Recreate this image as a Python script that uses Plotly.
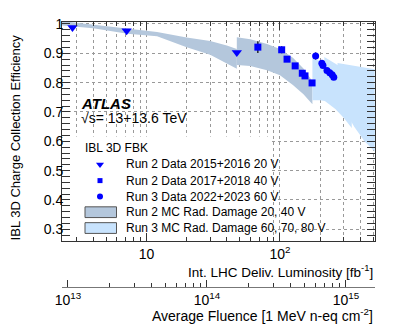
import plotly.graph_objects as go

# ---- data ----
run2_1516_lumi = [2.79, 7.1, 47.5]
run2_1516_cce = [0.988, 0.977, 0.903]

run2_1718_lumi = [68.3, 103, 113, 130, 147, 154, 174]
run2_1718_cce = [0.921, 0.912, 0.880, 0.857, 0.832, 0.823, 0.799]
run2_1718_err = [0.02, 0.012, 0, 0, 0, 0, 0]

run3_lumi = [185, 206, 210, 225, 236, 246, 253]
run3_cce = [0.891, 0.866, 0.858, 0.841, 0.834, 0.827, 0.818]
run3_err = [0.012, 0, 0, 0, 0, 0, 0]

# MC bands (upper / lower edge)
mc20_lumi = [2.3, 4, 7.2, 12, 20, 30, 40, 47.5]
mc20_hi = [1.01, 0.998, 0.983, 0.973, 0.954, 0.942, 0.927, 0.915]
mc20_lo = [0.995, 0.985, 0.967, 0.958, 0.921, 0.895, 0.866, 0.847]

mc40_lumi = [47.5, 60, 80, 100, 125, 150, 175]
mc40_hi = [0.955, 0.948, 0.932, 0.915, 0.885, 0.848, 0.805]
mc40_lo = [0.86, 0.857, 0.842, 0.825, 0.792, 0.76, 0.726]

mc60_lumi = [175, 200, 217, 260, 300, 345]
mc60_hi = [0.881, 0.875, 0.87, 0.845, 0.82, 0.79]
mc60_lo = [0.74, 0.74, 0.737, 0.71, 0.68, 0.645]

mc70_lumi = [215, 240, 270, 320, 360, 430, 512]
mc70_hi = [0.887, 0.875, 0.86, 0.835, 0.81, 0.77, 0.73]
mc70_lo = [0.80, 0.775, 0.75, 0.69, 0.65, 0.60, 0.565]

mc80_lumi = [270, 320, 400, 512]
mc80_hi = [0.867, 0.862, 0.855, 0.846]
mc80_lo = [0.78, 0.74, 0.68, 0.60]

lumi_ticks = [10, 100]
lumi_ticktext = ["10", "10<sup>2</sup>"]
fluence_ticks = [1e13, 1e14, 1e15]
fluence_ticktext = ["10<sup>13</sup>", "10<sup>14</sup>", "10<sup>15</sup>"]
cce_ticks = [0.3, 0.4, 0.5, 0.6, 0.7, 0.8, 0.9, 1.0]
cce_ticktext = ["0.3", "0.4", "0.5", "0.6", "0.7", "0.8", "0.9", "1"]

legend_labels = ["Run 2 Data 2015+2016 20 V", "Run 2 Data 2017+2018 40 V",
                 "Run 3 Data 2022+2023 60 V", "Run 2 MC Rad. Damage 20, 40 V",
                 "Run 3 MC Rad. Damage 60, 70, 80 V"]

BLUE = "#0000ff"
RUN2_FILL = "#b4c7dc"
RUN3_FILL = "#c8e3fd"
FONT = "Liberation Sans, Arial, sans-serif"

# page geometry (pixels); the page body has an 8 px margin
OFF = 8
L, R, T, B = 62, 375, 16, 287      # outer plot area (incl. fluence axis)
MAIN_BOTTOM = 240                    # bottom of the main frame


def px(xp):
    return (xp - L) / (R - L)


def py(yp):
    return (B - yp) / (B - T)


def fx(xp):   # fraction of the main frame
    return (xp - L) / (R - L)


def fy(yp):
    return (MAIN_BOTTOM - yp) / (MAIN_BOTTOM - T)


def band(lumi, hi, lo, color):
    return go.Scatter(x=lumi + lumi[::-1], y=hi + lo[::-1], fill="toself",
                      fillcolor=color, mode="lines", line=dict(width=0),
                      hoverinfo="skip", showlegend=False)


fig = go.Figure()
fig.add_trace(band(mc20_lumi, mc20_hi, mc20_lo, RUN2_FILL))
fig.add_trace(band(mc40_lumi, mc40_hi, mc40_lo, RUN2_FILL))
fig.add_trace(band(mc60_lumi, mc60_hi, mc60_lo, RUN3_FILL))
fig.add_trace(band(mc70_lumi, mc70_hi, mc70_lo, RUN3_FILL))
fig.add_trace(band(mc80_lumi, mc80_hi, mc80_lo, RUN3_FILL))

fig.add_trace(go.Scatter(x=run2_1516_lumi, y=run2_1516_cce, mode="markers",
                         marker=dict(symbol="triangle-down", size=9, color=BLUE),
                         showlegend=False))
fig.add_trace(go.Scatter(x=run2_1718_lumi, y=run2_1718_cce, mode="markers",
                         marker=dict(symbol="square", size=7, color=BLUE),
                         error_y=dict(type="data", array=run2_1718_err, color="black",
                                      thickness=1.2, width=0),
                         showlegend=False))
fig.add_trace(go.Scatter(x=run3_lumi, y=run3_cce, mode="markers",
                         marker=dict(symbol="circle", size=7, color=BLUE),
                         error_y=dict(type="data", array=run3_err, color="black",
                                      thickness=1.2, width=0),
                         showlegend=False))

# empty trace so the fluence axis gets drawn
fig.add_trace(go.Scatter(x=fluence_ticks, y=[None] * len(fluence_ticks), xaxis="x2",
                         mode="markers", hoverinfo="skip", showlegend=False))

# white legend background on the 0..1 helper axes (covers the grid)
bx0, bx1, by0, by1 = fx(62.5), fx(272), fy(236), fy(133)
fig.add_trace(go.Scatter(x=[bx0, bx1, bx1, bx0, bx0], y=[by0, by0, by1, by1, by0],
                         xaxis="x3", yaxis="y3", fill="toself", fillcolor="white",
                         mode="lines", line=dict(width=0), hoverinfo="skip",
                         showlegend=False))

# legend markers
leg_y = [161.7, 178.2, 194.5, 210.5, 226.7]
for sym, sz, yy in [("triangle-down", 7, leg_y[0]), ("square", 5, leg_y[1]),
                    ("circle", 6, leg_y[2])]:
    fig.add_trace(go.Scatter(x=[fx(100)], y=[fy(yy)], xaxis="x3", yaxis="y3",
                             mode="markers", marker=dict(symbol=sym, size=sz, color=BLUE),
                             hoverinfo="skip", showlegend=False))

shapes = []
for yy, col in [(leg_y[3], RUN2_FILL), (leg_y[4], RUN3_FILL)]:
    shapes.append(dict(type="rect", xref="x3", yref="y3",
                       x0=fx(85), x1=fx(116.5), y0=fy(yy + 5.5), y1=fy(yy - 5.5),
                       fillcolor=col, line=dict(color="#555", width=1)))

annotations = []
annotations.append(dict(text="IBL 3D FBK", x=px(83), y=py(145), xanchor="left",
                        yanchor="middle", font=dict(size=12)))
for lab, yy in zip(legend_labels, leg_y):
    annotations.append(dict(text=lab, x=px(124), y=py(yy), xanchor="left",
                            yanchor="middle", font=dict(size=12)))
annotations.append(dict(text="<b><i>ATLAS</i></b>", x=px(79), y=py(99), xanchor="left",
                        yanchor="middle", font=dict(size=15)))
annotations.append(dict(text="\u221as= 13+13.6 TeV", x=px(79), y=py(114), xanchor="left",
                        yanchor="middle", font=dict(size=14)))
annotations.append(dict(text="Int. LHC Deliv. Luminosity [fb<sup>-1</sup>]", x=1.0,
                        y=py(271), xanchor="right", yanchor="middle", font=dict(size=13.5)))
annotations.append(dict(text="Average Fluence [1 MeV n-eq cm<sup>-2</sup>]", x=1.0,
                        y=py(316), xanchor="right", yanchor="middle", font=dict(size=14)))
annotations.append(dict(text="IBL 3D Charge Collection Efficiency", x=px(15), y=py(134),
                        xanchor="center", yanchor="middle", textangle=-90,
                        font=dict(size=13)))
for a in annotations:
    a.update(xref="paper", yref="paper", showarrow=False)

minor_lumi = [3, 4, 5, 6, 7, 8, 9, 20, 30, 40, 50, 60, 70, 80, 90, 200, 300, 400, 500]
minor_flu = [m * 10 ** e for e in (13, 14) for m in range(2, 10)]

y_dom0 = (B - MAIN_BOTTOM) / (B - T)

fig.update_layout(
    width=395 - OFF, height=325 - OFF,
    margin=dict(l=L - OFF, r=395 - R, t=T - OFF, b=325 - B, pad=0),
    paper_bgcolor="white", plot_bgcolor="white",
    font=dict(family=FONT, color="black", size=14),
    showlegend=False,
    shapes=shapes, annotations=annotations,
    xaxis=dict(type="log", range=[0.367, 2.712], domain=[0, 1], anchor="y",
               tickmode="array", tickvals=lumi_ticks, ticktext=lumi_ticktext,
               ticks="inside", ticklen=8, tickcolor="#333", mirror="allticks",
               showline=True, linecolor="#333", linewidth=1,
               showgrid=True, gridcolor="#999", griddash="dot", gridwidth=1,
               minor=dict(tickmode="array", tickvals=minor_lumi, ticks="inside",
                          ticklen=4, tickcolor="#333", showgrid=True,
                          gridcolor="#999", griddash="dot"),
               tickfont=dict(size=14), zeroline=False),
    yaxis=dict(range=[0.26, 1.0067], domain=[y_dom0, 1], anchor="x",
               tickmode="array", tickvals=cce_ticks, ticktext=cce_ticktext,
               ticks="inside", ticklen=8, tickcolor="#333", mirror="allticks",
               showline=True, linecolor="#333", linewidth=1,
               showgrid=True, gridcolor="#999", griddash="dot", gridwidth=1,
               minor=dict(dtick=0.02, ticks="inside", ticklen=4, tickcolor="#333",
                          showgrid=False),
               ticklabelstandoff=-5,
               tickfont=dict(size=14), zeroline=False),
    xaxis2=dict(type="log", range=[12.957, 15.209], overlaying="x", anchor="free",
                position=0, side="bottom",
                tickmode="array", tickvals=fluence_ticks, ticktext=fluence_ticktext,
                ticks="inside", ticklen=7, tickcolor="#333",
                showline=True, linecolor="#777", linewidth=1, showgrid=False,
                minor=dict(tickmode="array", tickvals=minor_flu, ticks="inside",
                           ticklen=4, tickcolor="#333", showgrid=False),
                tickfont=dict(size=14), zeroline=False),
    xaxis3=dict(range=[0, 1], overlaying="x", visible=False),
    yaxis3=dict(range=[0, 1], overlaying="y", visible=False),
)

fig.write_html("out.html")
